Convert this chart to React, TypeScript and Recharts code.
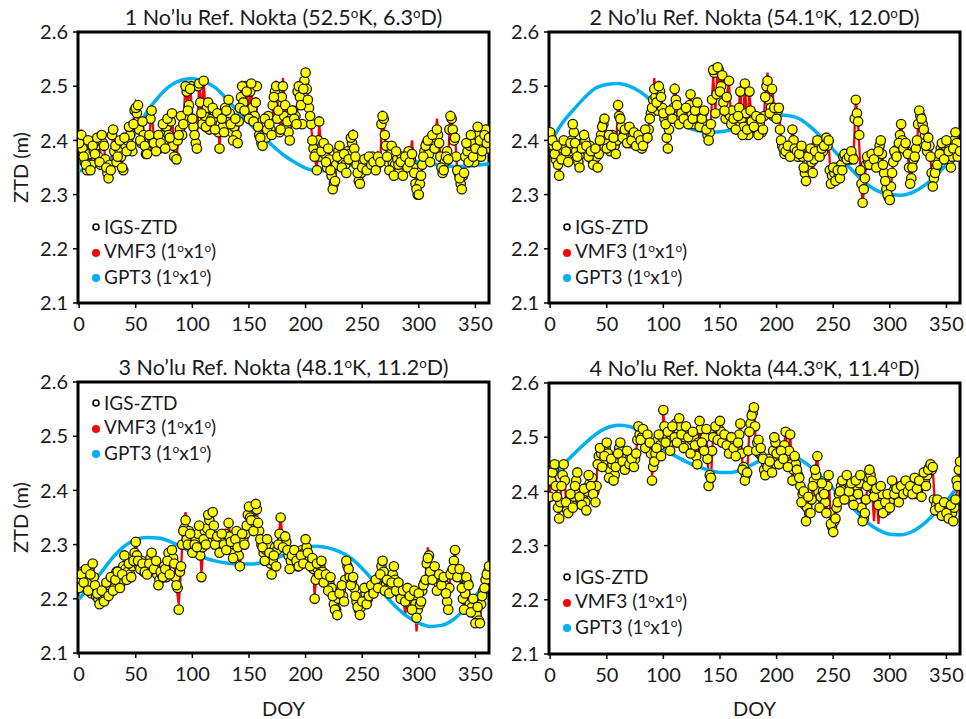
import React from "react";
import { ComposedChart, Line, Scatter, XAxis, YAxis, ReferenceArea } from "recharts";

// day of year, even days (IGS + VMF3 samples)
const doy = [
  0, 2, 4, 6, 8, 10, 12, 14, 16, 18,
  20, 22, 24, 26, 28, 30, 32, 34, 36, 38,
  40, 42, 44, 46, 48, 50, 52, 54, 56, 58,
  60, 62, 64, 66, 68, 70, 72, 74, 76, 78,
  80, 82, 84, 86, 88, 90, 92, 94, 96, 98,
  100, 102, 104, 106, 108, 110, 112, 114, 116, 118,
  120, 122, 124, 126, 128, 130, 132, 134, 136, 138,
  140, 142, 144, 146, 148, 150, 152, 154, 156, 158,
  160, 162, 164, 166, 168, 170, 172, 174, 176, 178,
  180, 182, 184, 186, 188, 190, 192, 194, 196, 198,
  200, 202, 204, 206, 208, 210, 212, 214, 216, 218,
  220, 222, 224, 226, 228, 230, 232, 234, 236, 238,
  240, 242, 244, 246, 248, 250, 252, 254, 256, 258,
  260, 262, 264, 266, 268, 270, 272, 274, 276, 278,
  280, 282, 284, 286, 288, 290, 292, 294, 296, 298,
  300, 302, 304, 306, 308, 310, 312, 314, 316, 318,
  320, 322, 324, 326, 328, 330, 332, 334, 336, 338,
  340, 342, 344, 346, 348, 350, 352, 354, 356, 358,
  360, 362,
];

// day of year, odd days (extra IGS samples)
const doyOdd = [
  1, 3, 5, 7, 9, 11, 13, 15, 17, 19,
  21, 23, 25, 27, 29, 31, 33, 35, 37, 39,
  41, 43, 45, 47, 49, 51, 53, 55, 57, 59,
  61, 63, 65, 67, 69, 71, 73, 75, 77, 79,
  81, 83, 85, 87, 89, 91, 93, 95, 97, 99,
  101, 103, 105, 107, 109, 111, 113, 115, 117, 119,
  121, 123, 125, 127, 129, 131, 133, 135, 137, 139,
  141, 143, 145, 147, 149, 151, 153, 155, 157, 159,
  161, 163, 165, 167, 169, 171, 173, 175, 177, 179,
  181, 183, 185, 187, 189, 191, 193, 195, 197, 199,
  201, 203, 205, 207, 209, 211, 213, 215, 217, 219,
  221, 223, 225, 227, 229, 231, 233, 235, 237, 239,
  241, 243, 245, 247, 249, 251, 253, 255, 257, 259,
  261, 263, 265, 267, 269, 271, 273, 275, 277, 279,
  281, 283, 285, 287, 289, 291, 293, 295, 297, 299,
  301, 303, 305, 307, 309, 311, 313, 315, 317, 319,
  321, 323, 325, 327, 329, 331, 333, 335, 337, 339,
  341, 343, 345, 347, 349, 351, 353, 355, 357, 359,
  361,
];

// day of year for the GPT3 curve
const gptDoy = [0, 10, 20, 30, 40, 50, 60, 70, 80, 90, 100, 110, 120, 130, 140, 150, 160, 170, 180, 190, 200, 210, 220, 230, 240, 250, 260, 270, 280, 290, 300, 310, 320, 330, 340, 350, 362];

const xTicks = [0, 50, 100, 150, 200, 250, 300, 350];
const yTicks = [2.1, 2.2, 2.3, 2.4, 2.5, 2.6];

// ---- 1 No'lu Ref. Nokta
const p1Igs = [
  2.395, 2.41, 2.37, 2.355, 2.4, 2.345, 2.39, 2.375, 2.405, 2.36,
  2.41, 2.39, 2.35, 2.33, 2.345, 2.42, 2.39, 2.37, 2.4, 2.35,
  2.405, 2.38, 2.425, 2.39, 2.43, 2.46, 2.465, 2.4, 2.435, 2.39,
  2.375, 2.41, 2.455, 2.395, 2.38, 2.41, 2.395, 2.43, 2.385, 2.44,
  2.405, 2.45, 2.37, 2.365, 2.41, 2.445, 2.43, 2.5, 2.455, 2.495,
  2.44, 2.41, 2.385, 2.505, 2.45, 2.51, 2.425, 2.47, 2.435, 2.46,
  2.42, 2.45, 2.385, 2.44, 2.415, 2.455, 2.475, 2.43, 2.4, 2.44,
  2.395, 2.46, 2.5, 2.455, 2.49, 2.44, 2.505, 2.435, 2.47, 2.425,
  2.405, 2.39, 2.44, 2.42, 2.43, 2.41, 2.48, 2.5, 2.455, 2.42,
  2.5, 2.465, 2.435, 2.4, 2.455, 2.44, 2.43, 2.5, 2.465, 2.495,
  2.525, 2.475, 2.445, 2.4, 2.37, 2.345, 2.435, 2.38, 2.395, 2.36,
  2.385, 2.345, 2.31, 2.325, 2.37, 2.39, 2.35, 2.375, 2.34, 2.365,
  2.405, 2.41, 2.37, 2.34, 2.32, 2.35, 2.365, 2.345, 2.37, 2.355,
  2.36, 2.345, 2.37, 2.36, 2.445, 2.41, 2.37, 2.345, 2.39, 2.335,
  2.38, 2.355, 2.36, 2.335, 2.37, 2.35, 2.36, 2.375, 2.34, 2.31,
  2.3, 2.335, 2.37, 2.39, 2.4, 2.36, 2.41, 2.385, 2.42, 2.395,
  2.35, 2.345, 2.37, 2.365, 2.445, 2.42, 2.405, 2.345, 2.33, 2.31,
  2.34, 2.395, 2.36, 2.41, 2.37, 2.385, 2.425, 2.4, 2.38, 2.41,
  2.395, 2.405,
];
const p1IgsOdd = [
  2.4, 2.385, 2.36, 2.345, 2.375, 2.355, 2.38, 2.39, 2.37, 2.355,
  2.395, 2.365, 2.34, 2.355, 2.41, 2.38, 2.36, 2.385, 2.37, 2.345,
  2.39, 2.4, 2.41, 2.38, 2.455, 2.45, 2.42, 2.395, 2.41, 2.375,
  2.39, 2.44, 2.4, 2.39, 2.405, 2.385, 2.41, 2.4, 2.425, 2.41,
  2.435, 2.39, 2.37, 2.4, 2.42, 2.41, 2.445, 2.49, 2.465, 2.5,
  2.425, 2.395, 2.5, 2.47, 2.43, 2.445, 2.46, 2.42, 2.44, 2.455,
  2.435, 2.415, 2.43, 2.425, 2.46, 2.44, 2.45, 2.415, 2.425, 2.41,
  2.435, 2.48, 2.47, 2.5, 2.45, 2.49, 2.46, 2.445, 2.5, 2.41,
  2.395, 2.425, 2.405, 2.445, 2.42, 2.465, 2.49, 2.44, 2.415, 2.48,
  2.445, 2.425, 2.415, 2.44, 2.455, 2.445, 2.49, 2.48, 2.43, 2.51,
  2.495, 2.46, 2.43, 2.385, 2.375, 2.4, 2.37, 2.39, 2.375, 2.35,
  2.365, 2.335, 2.32, 2.355, 2.38, 2.365, 2.36, 2.355, 2.38, 2.375,
  2.395, 2.385, 2.355, 2.325, 2.34, 2.36, 2.355, 2.365, 2.36, 2.37,
  2.365, 2.355, 2.365, 2.43, 2.44, 2.39, 2.36, 2.375, 2.36, 2.355,
  2.365, 2.345, 2.37, 2.355, 2.36, 2.38, 2.365, 2.35, 2.32, 2.3,
  2.32, 2.355, 2.38, 2.395, 2.375, 2.39, 2.4, 2.405, 2.41, 2.37,
  2.34, 2.36, 2.38, 2.42, 2.44, 2.4, 2.37, 2.34, 2.32, 2.335,
  2.37, 2.38, 2.39, 2.395, 2.36, 2.41, 2.39, 2.37, 2.4, 2.42,
  2.385,
];
const p1Vmf = [
  2.4, 2.42, 2.375, 2.36, 2.395, 2.35, 2.385, 2.38, 2.4, 2.365,
  2.415, 2.385, 2.355, 2.335, 2.35, 2.415, 2.395, 2.365, 2.405, 2.355,
  2.4, 2.385, 2.43, 2.385, 2.435, 2.47, 2.46, 2.405, 2.44, 2.385,
  2.38, 2.405, 2.46, 2.4, 2.385, 2.405, 2.4, 2.435, 2.38, 2.445,
  2.4, 2.455, 2.375, 2.37, 2.405, 2.45, 2.425, 2.51, 2.46, 2.505,
  2.445, 2.405, 2.39, 2.51, 2.445, 2.515, 2.43, 2.475, 2.43, 2.465,
  2.425, 2.445, 2.39, 2.445, 2.41, 2.46, 2.48, 2.425, 2.405, 2.435,
  2.4, 2.465, 2.51, 2.45, 2.5, 2.445, 2.51, 2.43, 2.475, 2.43,
  2.4, 2.395, 2.445, 2.415, 2.435, 2.405, 2.485, 2.51, 2.45, 2.425,
  2.515, 2.46, 2.44, 2.395, 2.46, 2.435, 2.435, 2.505, 2.46, 2.5,
  2.53, 2.48, 2.44, 2.405, 2.365, 2.35, 2.43, 2.385, 2.39, 2.365,
  2.38, 2.35, 2.315, 2.32, 2.375, 2.385, 2.355, 2.37, 2.345, 2.36,
  2.41, 2.42, 2.365, 2.345, 2.325, 2.345, 2.37, 2.35, 2.365, 2.36,
  2.355, 2.35, 2.375, 2.365, 2.455, 2.405, 2.375, 2.34, 2.395, 2.34,
  2.375, 2.36, 2.355, 2.34, 2.375, 2.345, 2.365, 2.4, 2.345, 2.315,
  2.305, 2.33, 2.375, 2.385, 2.405, 2.365, 2.405, 2.39, 2.44, 2.4,
  2.345, 2.35, 2.365, 2.37, 2.455, 2.415, 2.41, 2.34, 2.335, 2.315,
  2.345, 2.39, 2.365, 2.405, 2.375, 2.38, 2.43, 2.395, 2.385, 2.405,
  2.4, 2.41,
];
const p1Gpt = [2.343, 2.352, 2.362, 2.366, 2.378, 2.415, 2.453, 2.48, 2.5, 2.511, 2.514, 2.508, 2.498, 2.477, 2.454, 2.432, 2.412, 2.392, 2.374, 2.36, 2.349, 2.344, 2.344, 2.348, 2.354, 2.358, 2.362, 2.364, 2.364, 2.363, 2.36, 2.357, 2.354, 2.352, 2.352, 2.354, 2.357];

// ---- 2 No'lu Ref. Nokta
const p2Igs = [
  2.415, 2.4, 2.375, 2.39, 2.335, 2.365, 2.4, 2.38, 2.36, 2.395,
  2.43, 2.395, 2.37, 2.35, 2.385, 2.41, 2.39, 2.37, 2.38, 2.355,
  2.385, 2.35, 2.4, 2.425, 2.44, 2.385, 2.41, 2.39, 2.405, 2.375,
  2.465, 2.44, 2.405, 2.42, 2.395, 2.425, 2.4, 2.415, 2.39, 2.41,
  2.4, 2.39, 2.42, 2.405, 2.44, 2.46, 2.495, 2.47, 2.5, 2.48,
  2.45, 2.43, 2.385, 2.455, 2.44, 2.495, 2.465, 2.43, 2.45, 2.44,
  2.46, 2.43, 2.485, 2.44, 2.455, 2.47, 2.425, 2.44, 2.455, 2.42,
  2.4, 2.43, 2.53, 2.45, 2.535, 2.49, 2.52, 2.455, 2.48, 2.51,
  2.43, 2.44, 2.42, 2.445, 2.49, 2.41, 2.505, 2.42, 2.49, 2.435,
  2.425, 2.445, 2.41, 2.44, 2.42, 2.48, 2.51, 2.45, 2.495, 2.46,
  2.44, 2.46, 2.4, 2.385, 2.38, 2.39, 2.37, 2.42, 2.385, 2.38,
  2.375, 2.39, 2.35, 2.325, 2.37, 2.385, 2.34, 2.38, 2.4, 2.37,
  2.385, 2.39, 2.405, 2.4, 2.32, 2.35, 2.325, 2.345, 2.33, 2.345,
  2.375, 2.365, 2.37, 2.38, 2.365, 2.475, 2.435, 2.345, 2.285, 2.33,
  2.37, 2.355, 2.375, 2.365, 2.35, 2.38, 2.4, 2.355, 2.325, 2.3,
  2.29, 2.34, 2.38, 2.37, 2.395, 2.43, 2.385, 2.395, 2.375, 2.32,
  2.35, 2.37, 2.4, 2.455, 2.44, 2.42, 2.39, 2.405, 2.37, 2.315,
  2.34, 2.355, 2.375, 2.395, 2.365, 2.4, 2.38, 2.35, 2.385, 2.415,
  2.37, 2.38,
];
const p2IgsOdd = [
  2.405, 2.39, 2.365, 2.355, 2.37, 2.385, 2.39, 2.365, 2.38, 2.4,
  2.415, 2.38, 2.36, 2.375, 2.395, 2.4, 2.38, 2.39, 2.365, 2.37,
  2.37, 2.375, 2.41, 2.43, 2.4, 2.395, 2.38, 2.41, 2.39, 2.4,
  2.445, 2.425, 2.41, 2.4, 2.41, 2.395, 2.41, 2.4, 2.395, 2.405,
  2.385, 2.4, 2.41, 2.42, 2.45, 2.475, 2.48, 2.455, 2.49, 2.46,
  2.44, 2.405, 2.42, 2.445, 2.46, 2.475, 2.445, 2.44, 2.455, 2.45,
  2.445, 2.465, 2.45, 2.43, 2.44, 2.455, 2.435, 2.45, 2.43, 2.41,
  2.415, 2.475, 2.525, 2.485, 2.53, 2.5, 2.47, 2.44, 2.45, 2.445,
  2.455, 2.43, 2.425, 2.46, 2.44, 2.425, 2.45, 2.41, 2.455, 2.425,
  2.435, 2.42, 2.43, 2.415, 2.445, 2.5, 2.475, 2.46, 2.445, 2.45,
  2.455, 2.42, 2.39, 2.375, 2.385, 2.375, 2.38, 2.4, 2.38, 2.37,
  2.38, 2.37, 2.34, 2.35, 2.375, 2.36, 2.365, 2.39, 2.38, 2.375,
  2.38, 2.4, 2.39, 2.345, 2.335, 2.34, 2.35, 2.335, 2.355, 2.37,
  2.37, 2.375, 2.365, 2.37, 2.44, 2.45, 2.41, 2.32, 2.31, 2.355,
  2.36, 2.365, 2.37, 2.355, 2.36, 2.39, 2.375, 2.34, 2.31, 2.295,
  2.315, 2.36, 2.375, 2.385, 2.41, 2.4, 2.385, 2.38, 2.35, 2.33,
  2.365, 2.385, 2.43, 2.445, 2.43, 2.41, 2.38, 2.39, 2.34, 2.33,
  2.35, 2.365, 2.385, 2.38, 2.39, 2.395, 2.365, 2.37, 2.4, 2.395,
  2.375,
];
const p2Vmf = [
  2.41, 2.405, 2.37, 2.395, 2.34, 2.36, 2.405, 2.375, 2.365, 2.39,
  2.435, 2.39, 2.375, 2.355, 2.38, 2.42, 2.385, 2.375, 2.375, 2.36,
  2.38, 2.355, 2.395, 2.43, 2.445, 2.38, 2.415, 2.385, 2.41, 2.37,
  2.475, 2.435, 2.41, 2.415, 2.4, 2.42, 2.405, 2.41, 2.395, 2.405,
  2.405, 2.395, 2.415, 2.41, 2.435, 2.47, 2.515, 2.465, 2.51, 2.475,
  2.455, 2.425, 2.39, 2.45, 2.445, 2.505, 2.46, 2.435, 2.445, 2.445,
  2.455, 2.435, 2.49, 2.435, 2.46, 2.465, 2.43, 2.435, 2.46, 2.415,
  2.405, 2.435, 2.52, 2.455, 2.54, 2.485, 2.525, 2.45, 2.485, 2.505,
  2.435, 2.435, 2.425, 2.44, 2.5, 2.405, 2.51, 2.425, 2.485, 2.44,
  2.42, 2.45, 2.405, 2.445, 2.415, 2.485, 2.525, 2.445, 2.5, 2.455,
  2.445, 2.455, 2.405, 2.38, 2.385, 2.385, 2.375, 2.425, 2.38, 2.385,
  2.37, 2.395, 2.345, 2.33, 2.365, 2.39, 2.335, 2.385, 2.405, 2.365,
  2.39, 2.385, 2.41, 2.395, 2.325, 2.345, 2.33, 2.34, 2.335, 2.34,
  2.38, 2.36, 2.375, 2.375, 2.37, 2.48, 2.43, 2.35, 2.28, 2.335,
  2.365, 2.36, 2.37, 2.37, 2.345, 2.385, 2.395, 2.36, 2.32, 2.305,
  2.295, 2.335, 2.385, 2.365, 2.4, 2.435, 2.38, 2.4, 2.37, 2.325,
  2.345, 2.375, 2.395, 2.46, 2.435, 2.425, 2.385, 2.41, 2.365, 2.32,
  2.345, 2.35, 2.38, 2.39, 2.37, 2.395, 2.385, 2.345, 2.39, 2.41,
  2.375, 2.375,
];
const p2Gpt = [2.395, 2.43, 2.455, 2.478, 2.496, 2.503, 2.505, 2.5, 2.489, 2.472, 2.455, 2.437, 2.425, 2.418, 2.415, 2.416, 2.42, 2.428, 2.436, 2.443, 2.447, 2.446, 2.44, 2.425, 2.405, 2.383, 2.36, 2.338, 2.319, 2.306, 2.3, 2.299, 2.304, 2.316, 2.334, 2.355, 2.38];

// ---- 3 No'lu Ref. Nokta
const p3Igs = [
  2.22, 2.245, 2.23, 2.255, 2.215, 2.245, 2.265, 2.225, 2.21, 2.19,
  2.215, 2.195, 2.23, 2.205, 2.24, 2.215, 2.235, 2.25, 2.22, 2.245,
  2.28, 2.235, 2.265, 2.24, 2.27, 2.305, 2.27, 2.255, 2.265, 2.25,
  2.245, 2.265, 2.285, 2.255, 2.27, 2.225, 2.25, 2.24, 2.255, 2.27,
  2.245, 2.29, 2.265, 2.225, 2.18, 2.26, 2.325, 2.345, 2.3, 2.32,
  2.285, 2.3, 2.295, 2.335, 2.24, 2.31, 2.3, 2.355, 2.32, 2.36,
  2.3, 2.315, 2.285, 2.32, 2.3, 2.29, 2.34, 2.305, 2.275, 2.31,
  2.295, 2.26, 2.32, 2.3, 2.335, 2.37, 2.345, 2.325, 2.375, 2.34,
  2.31, 2.295, 2.27, 2.31, 2.285, 2.245, 2.28, 2.26, 2.3, 2.35,
  2.295, 2.315, 2.29, 2.255, 2.28, 2.29, 2.27, 2.26, 2.28, 2.265,
  2.31, 2.285, 2.26, 2.275, 2.2, 2.265, 2.245, 2.27, 2.23, 2.245,
  2.215, 2.24, 2.205, 2.18, 2.17, 2.21, 2.225, 2.195, 2.27, 2.255,
  2.225, 2.24, 2.205, 2.185, 2.17, 2.195, 2.22, 2.19, 2.205, 2.225,
  2.21, 2.235, 2.22, 2.245, 2.27, 2.215, 2.235, 2.21, 2.23, 2.26,
  2.215, 2.23, 2.2, 2.215, 2.195, 2.22, 2.205, 2.18, 2.215, 2.165,
  2.21, 2.195, 2.225, 2.235, 2.275, 2.25, 2.235, 2.26, 2.215, 2.245,
  2.225, 2.24, 2.21, 2.18, 2.245, 2.255, 2.29, 2.24, 2.255, 2.22,
  2.18, 2.24, 2.225, 2.175, 2.2, 2.155, 2.185, 2.155, 2.205, 2.22,
  2.245, 2.26,
];
const p3IgsOdd = [
  2.235, 2.25, 2.24, 2.23, 2.255, 2.21, 2.24, 2.205, 2.2, 2.205,
  2.205, 2.21, 2.215, 2.225, 2.23, 2.22, 2.25, 2.235, 2.23, 2.26,
  2.255, 2.25, 2.245, 2.26, 2.285, 2.28, 2.26, 2.27, 2.25, 2.26,
  2.255, 2.275, 2.265, 2.26, 2.245, 2.235, 2.245, 2.26, 2.24, 2.285,
  2.27, 2.275, 2.24, 2.22, 2.25, 2.3, 2.33, 2.31, 2.325, 2.3,
  2.29, 2.31, 2.32, 2.28, 2.295, 2.325, 2.33, 2.345, 2.31, 2.335,
  2.31, 2.3, 2.295, 2.31, 2.32, 2.3, 2.315, 2.29, 2.3, 2.325,
  2.28, 2.305, 2.31, 2.32, 2.355, 2.35, 2.33, 2.345, 2.365, 2.325,
  2.3, 2.285, 2.29, 2.3, 2.265, 2.27, 2.295, 2.29, 2.32, 2.305,
  2.3, 2.305, 2.28, 2.27, 2.29, 2.275, 2.26, 2.275, 2.29, 2.285,
  2.295, 2.27, 2.265, 2.255, 2.235, 2.255, 2.26, 2.25, 2.24, 2.235,
  2.23, 2.22, 2.19, 2.18, 2.2, 2.215, 2.205, 2.235, 2.26, 2.24,
  2.23, 2.22, 2.195, 2.18, 2.185, 2.205, 2.21, 2.2, 2.215, 2.22,
  2.225, 2.23, 2.24, 2.26, 2.25, 2.225, 2.22, 2.22, 2.245, 2.235,
  2.225, 2.21, 2.21, 2.2, 2.21, 2.205, 2.19, 2.2, 2.19, 2.18,
  2.19, 2.215, 2.23, 2.265, 2.28, 2.24, 2.25, 2.245, 2.23, 2.235,
  2.235, 2.225, 2.195, 2.22, 2.25, 2.27, 2.255, 2.245, 2.24, 2.2,
  2.21, 2.23, 2.19, 2.185, 2.175, 2.17, 2.16, 2.19, 2.215, 2.235,
  2.25,
];
const p3Vmf = [
  2.225, 2.24, 2.235, 2.25, 2.22, 2.24, 2.27, 2.22, 2.215, 2.195,
  2.21, 2.2, 2.225, 2.21, 2.245, 2.21, 2.24, 2.245, 2.225, 2.24,
  2.275, 2.24, 2.26, 2.245, 2.265, 2.31, 2.265, 2.26, 2.26, 2.255,
  2.24, 2.27, 2.29, 2.25, 2.275, 2.22, 2.255, 2.235, 2.26, 2.265,
  2.25, 2.285, 2.27, 2.22, 2.19, 2.255, 2.335, 2.36, 2.295, 2.325,
  2.28, 2.305, 2.29, 2.34, 2.245, 2.305, 2.305, 2.35, 2.325, 2.355,
  2.305, 2.31, 2.29, 2.315, 2.305, 2.285, 2.345, 2.3, 2.28, 2.305,
  2.3, 2.255, 2.325, 2.295, 2.34, 2.365, 2.35, 2.32, 2.38, 2.335,
  2.315, 2.29, 2.275, 2.305, 2.29, 2.24, 2.285, 2.255, 2.305, 2.355,
  2.29, 2.32, 2.285, 2.26, 2.275, 2.295, 2.265, 2.265, 2.275, 2.27,
  2.305, 2.29, 2.255, 2.28, 2.205, 2.26, 2.25, 2.265, 2.235, 2.24,
  2.22, 2.235, 2.21, 2.175, 2.175, 2.205, 2.23, 2.19, 2.275, 2.25,
  2.23, 2.235, 2.21, 2.18, 2.175, 2.19, 2.225, 2.185, 2.21, 2.22,
  2.215, 2.23, 2.225, 2.24, 2.275, 2.21, 2.24, 2.205, 2.235, 2.265,
  2.21, 2.235, 2.195, 2.21, 2.17, 2.215, 2.2, 2.175, 2.21, 2.14,
  2.205, 2.2, 2.22, 2.24, 2.295, 2.245, 2.24, 2.255, 2.22, 2.24,
  2.23, 2.235, 2.215, 2.175, 2.25, 2.25, 2.295, 2.235, 2.26, 2.215,
  2.185, 2.235, 2.23, 2.17, 2.205, 2.15, 2.19, 2.15, 2.21, 2.215,
  2.25, 2.255,
];
const p3Gpt = [2.2, 2.225, 2.25, 2.277, 2.297, 2.309, 2.313, 2.312, 2.306, 2.296, 2.285, 2.276, 2.27, 2.266, 2.264, 2.264, 2.266, 2.272, 2.28, 2.289, 2.295, 2.297, 2.294, 2.287, 2.275, 2.256, 2.233, 2.207, 2.185, 2.167, 2.155, 2.149, 2.151, 2.161, 2.18, 2.205, 2.24];

// ---- 4 No'lu Ref. Nokta
const p4Igs = [
  2.39, 2.435, 2.45, 2.39, 2.35, 2.41, 2.45, 2.38, 2.36, 2.395,
  2.37, 2.41, 2.435, 2.39, 2.375, 2.405, 2.365, 2.43, 2.41, 2.395,
  2.38, 2.45, 2.48, 2.445, 2.465, 2.49, 2.425, 2.46, 2.42, 2.445,
  2.47, 2.49, 2.455, 2.44, 2.475, 2.45, 2.46, 2.445, 2.47, 2.52,
  2.495, 2.515, 2.48, 2.505, 2.49, 2.42, 2.455, 2.48, 2.505, 2.465,
  2.55, 2.49, 2.51, 2.475, 2.52, 2.5, 2.49, 2.535, 2.505, 2.48,
  2.52, 2.5, 2.47, 2.51, 2.485, 2.45, 2.53, 2.49, 2.475, 2.515,
  2.41, 2.425, 2.5, 2.52, 2.495, 2.53, 2.49, 2.505, 2.485, 2.47,
  2.5, 2.48, 2.465, 2.49, 2.525, 2.44, 2.42, 2.435, 2.51, 2.54,
  2.555, 2.475, 2.495, 2.48, 2.46, 2.43, 2.445, 2.455, 2.435, 2.5,
  2.47, 2.45, 2.475, 2.46, 2.51, 2.445, 2.505, 2.42, 2.465, 2.44,
  2.425, 2.38, 2.4, 2.345, 2.39, 2.36, 2.41, 2.44, 2.465, 2.37,
  2.415, 2.395, 2.36, 2.43, 2.34, 2.325, 2.35, 2.38, 2.4, 2.42,
  2.385, 2.43, 2.4, 2.415, 2.375, 2.42, 2.395, 2.43, 2.345, 2.36,
  2.41, 2.44, 2.42, 2.39, 2.405, 2.375, 2.41, 2.36, 2.38, 2.395,
  2.37, 2.42, 2.395, 2.405, 2.38, 2.41, 2.395, 2.42, 2.4, 2.41,
  2.395, 2.425, 2.405, 2.42, 2.39, 2.435, 2.41, 2.44, 2.45, 2.445,
  2.365, 2.385, 2.37, 2.355, 2.38, 2.36, 2.35, 2.375, 2.345, 2.385,
  2.41, 2.455,
];
const p4IgsOdd = [
  2.42, 2.44, 2.41, 2.37, 2.38, 2.43, 2.42, 2.365, 2.385, 2.38,
  2.39, 2.42, 2.4, 2.385, 2.395, 2.38, 2.4, 2.415, 2.425, 2.4,
  2.41, 2.465, 2.47, 2.455, 2.48, 2.47, 2.44, 2.45, 2.43, 2.46,
  2.48, 2.465, 2.45, 2.46, 2.455, 2.465, 2.45, 2.46, 2.495, 2.505,
  2.5, 2.495, 2.49, 2.485, 2.47, 2.445, 2.47, 2.495, 2.485, 2.5,
  2.52, 2.505, 2.49, 2.5, 2.51, 2.525, 2.515, 2.52, 2.49, 2.5,
  2.51, 2.485, 2.495, 2.5, 2.465, 2.49, 2.515, 2.48, 2.5, 2.46,
  2.43, 2.475, 2.51, 2.5, 2.515, 2.51, 2.495, 2.49, 2.5, 2.48,
  2.49, 2.47, 2.48, 2.505, 2.47, 2.445, 2.43, 2.475, 2.525, 2.545,
  2.52, 2.49, 2.47, 2.465, 2.44, 2.45, 2.46, 2.445, 2.475, 2.49,
  2.46, 2.465, 2.455, 2.485, 2.47, 2.475, 2.45, 2.44, 2.45, 2.43,
  2.41, 2.395, 2.375, 2.37, 2.36, 2.385, 2.42, 2.43, 2.4, 2.39,
  2.4, 2.38, 2.41, 2.36, 2.335, 2.345, 2.37, 2.395, 2.41, 2.405,
  2.405, 2.415, 2.41, 2.39, 2.4, 2.41, 2.415, 2.37, 2.35, 2.385,
  2.425, 2.43, 2.405, 2.4, 2.39, 2.385, 2.395, 2.37, 2.365, 2.39,
  2.385, 2.4, 2.41, 2.39, 2.395, 2.4, 2.415, 2.405, 2.41, 2.4,
  2.41, 2.415, 2.395, 2.41, 2.42, 2.42, 2.43, 2.445, 2.44, 2.385,
  2.375, 2.37, 2.36, 2.37, 2.365, 2.355, 2.37, 2.36, 2.37, 2.42,
  2.44,
];
const p4Vmf = [
  2.4, 2.43, 2.44, 2.385, 2.355, 2.415, 2.44, 2.385, 2.355, 2.4,
  2.365, 2.415, 2.43, 2.395, 2.37, 2.41, 2.37, 2.425, 2.415, 2.39,
  2.385, 2.455, 2.475, 2.45, 2.46, 2.495, 2.42, 2.465, 2.425, 2.44,
  2.475, 2.485, 2.46, 2.435, 2.48, 2.445, 2.465, 2.44, 2.475, 2.515,
  2.5, 2.51, 2.485, 2.5, 2.495, 2.43, 2.45, 2.485, 2.5, 2.47,
  2.545, 2.495, 2.515, 2.47, 2.525, 2.495, 2.495, 2.545, 2.5, 2.485,
  2.515, 2.505, 2.465, 2.515, 2.48, 2.455, 2.525, 2.495, 2.47, 2.52,
  2.415, 2.42, 2.505, 2.515, 2.5, 2.535, 2.485, 2.51, 2.48, 2.475,
  2.495, 2.485, 2.46, 2.495, 2.52, 2.445, 2.425, 2.43, 2.515, 2.545,
  2.565, 2.47, 2.5, 2.475, 2.465, 2.425, 2.45, 2.45, 2.44, 2.495,
  2.475, 2.445, 2.48, 2.455, 2.515, 2.44, 2.51, 2.415, 2.47, 2.435,
  2.43, 2.375, 2.405, 2.34, 2.395, 2.355, 2.415, 2.435, 2.47, 2.365,
  2.42, 2.39, 2.355, 2.435, 2.335, 2.33, 2.345, 2.385, 2.395, 2.425,
  2.38, 2.435, 2.395, 2.42, 2.37, 2.425, 2.39, 2.435, 2.34, 2.365,
  2.405, 2.445, 2.415, 2.345, 2.41, 2.34, 2.415, 2.355, 2.385, 2.39,
  2.375, 2.425, 2.39, 2.41, 2.375, 2.415, 2.39, 2.425, 2.395, 2.415,
  2.39, 2.43, 2.4, 2.425, 2.385, 2.44, 2.405, 2.445, 2.455, 2.44,
  2.37, 2.38, 2.375, 2.35, 2.385, 2.355, 2.355, 2.37, 2.35, 2.38,
  2.415, 2.46,
];
const p4Gpt = [2.422, 2.445, 2.467, 2.487, 2.505, 2.517, 2.522, 2.52, 2.508, 2.492, 2.478, 2.466, 2.455, 2.446, 2.439, 2.435, 2.435, 2.441, 2.451, 2.461, 2.468, 2.468, 2.46, 2.445, 2.426, 2.405, 2.386, 2.364, 2.343, 2.329, 2.321, 2.32, 2.326, 2.34, 2.36, 2.382, 2.415];

const TEXT = "#1a1a1a";
const FONT = "Lato, 'Open Sans', sans-serif";

const Deg = () => (
  <span style={{ fontSize: "0.62em", position: "relative", top: "-0.55em" }}>o</span>
);

const dotShape = (props: any) => (
  <circle cx={props.cx} cy={props.cy} r={4.7} fill="#ffff00" stroke="#1a1a1a" strokeWidth={1.3} />
);

const LegendBox = ({ y }: { y: number }) => {
  const rows = [
    { key: "igs", marker: <circle cx={5} cy={5} r={3} fill="#fff" stroke="#000" strokeWidth={1.6} />, label: <>IGS-ZTD</> },
    { key: "vmf", marker: <circle cx={5} cy={5} r={4} fill="#ff0000" />, label: <>VMF3 (1<Deg />x1<Deg />)</> },
    { key: "gpt", marker: <circle cx={5} cy={5} r={4} fill="#00b0f0" />, label: <>GPT3 (1<Deg />x1<Deg />)</> },
  ];
  return (
    <>
      {rows.map((r, i) => (
        <div
          key={r.key}
          style={{ position: "absolute", left: 91, top: y + i * 25.5 - 12, height: 24, display: "flex", alignItems: "center", whiteSpace: "nowrap" }}
        >
          <svg width={10} height={10} style={{ marginRight: 3 }}>
            {r.marker}
          </svg>
          <span style={{ fontSize: 19, lineHeight: "24px", color: TEXT }}>{r.label}</span>
        </div>
      ))}
    </>
  );
};

type PanelProps = {
  left: number;
  top: number;
  height: number;
  xAxisHeight: number;
  title: React.ReactNode;
  igs: number[];
  igsOdd: number[];
  vmf: number[];
  gpt: number[];
  legendY: number;
  yLabel?: boolean;
  xLabel?: boolean;
};

const Panel = ({ left, top, height, xAxisHeight, title, igs, igsOdd, vmf, gpt, legendY, yLabel, xLabel }: PanelProps) => {
  const igsData = doy.map((d, i) => ({ doy: d, v: igs[i] }));
  const igsOddData = doyOdd.map((d, i) => ({ doy: d, v: igsOdd[i] }));
  const vmfData = doy.map((d, i) => ({ doy: d, v: vmf[i] }));
  const gptData = gptDoy.map((d, i) => ({ doy: d, v: gpt[i] }));
  const tick = { fontSize: 20, fill: TEXT, fontFamily: FONT };

  return (
    <div style={{ position: "absolute", left, top, width: 496, height }}>
      <div
        style={{ position: "absolute", left: 78, width: 411, top: 4, textAlign: "center", fontSize: 21.5, lineHeight: "26px", whiteSpace: "nowrap", color: TEXT }}
      >
        {title}
      </div>
      <ComposedChart width={496} height={height} margin={{ top: 32, right: 7, left: 0, bottom: 0 }}>
        <XAxis
          type="number"
          dataKey="doy"
          domain={[-1, 362]}
          ticks={xTicks}
          allowDataOverflow
          axisLine={false}
          tickSize={5}
          tickMargin={9}
          tickLine={{ stroke: "#000", strokeWidth: 1.5 }}
          tick={tick}
          height={xAxisHeight}
          label={xLabel ? { value: "DOY", position: "insideBottom", offset: 3, fill: TEXT, fontSize: 20, fontFamily: FONT } : undefined}
        />
        <YAxis
          type="number"
          dataKey="v"
          domain={[2.1, 2.6]}
          ticks={yTicks}
          allowDataOverflow
          width={78}
          axisLine={false}
          tickSize={5}
          tickMargin={5}
          tickLine={{ stroke: "#000", strokeWidth: 1.5 }}
          tick={tick}
          tickFormatter={(v: number) => v.toFixed(1)}
          label={yLabel ? { value: "ZTD (m)", angle: -90, position: "insideLeft", offset: 21, fill: TEXT, fontSize: 20, fontFamily: FONT, style: { textAnchor: "middle" } } : undefined}
        />
        <Scatter data={igsOddData} dataKey="v" shape={dotShape} isAnimationActive={false} />
        <Line data={vmfData} dataKey="v" type="linear" stroke="#ff0000" strokeWidth={2.3} dot={false} isAnimationActive={false} />
        <Line data={gptData} dataKey="v" type="monotone" stroke="#00b0f0" strokeWidth={3.5} dot={false} isAnimationActive={false} />
        <Scatter data={igsData} dataKey="v" shape={dotShape} isAnimationActive={false} />
        <ReferenceArea x1={-1} x2={362} y1={2.1} y2={2.6} fill="none" stroke="#000" strokeWidth={3} />
      </ComposedChart>
      <LegendBox y={legendY} />
    </div>
  );
};

export default function App() {
  return (
    <div style={{ position: "absolute", left: 0, top: 0, width: 966, height: 719, background: "#fff", fontFamily: FONT, overflow: "hidden" }}>
      <Panel
        left={0}
        top={0}
        height={340}
        xAxisHeight={37}
        title={<>1 No’lu Ref. Nokta (52.5<Deg />K, 6.3<Deg />D)</>}
        igs={p1Igs}
        igsOdd={p1IgsOdd}
        vmf={p1Vmf}
        gpt={p1Gpt}
        legendY={227}
        yLabel
      />
      <Panel
        left={471}
        top={0}
        height={340}
        xAxisHeight={37}
        title={<>2 No’lu Ref. Nokta (54.1<Deg />K, 12.0<Deg />D)</>}
        igs={p2Igs}
        igsOdd={p2IgsOdd}
        vmf={p2Vmf}
        gpt={p2Gpt}
        legendY={227}
      />
      <Panel
        left={0}
        top={350}
        height={369}
        xAxisHeight={66}
        title={<>3 No’lu Ref. Nokta (48.1<Deg />K, 11.2<Deg />D)</>}
        igs={p3Igs}
        igsOdd={p3IgsOdd}
        vmf={p3Vmf}
        gpt={p3Gpt}
        legendY={53}
        yLabel
        xLabel
      />
      <Panel
        left={471}
        top={351}
        height={368}
        xAxisHeight={65}
        title={<>4 No’lu Ref. Nokta (44.3<Deg />K, 11.4<Deg />D)</>}
        igs={p4Igs}
        igsOdd={p4IgsOdd}
        vmf={p4Vmf}
        gpt={p4Gpt}
        legendY={226}
        xLabel
      />
    </div>
  );
}
